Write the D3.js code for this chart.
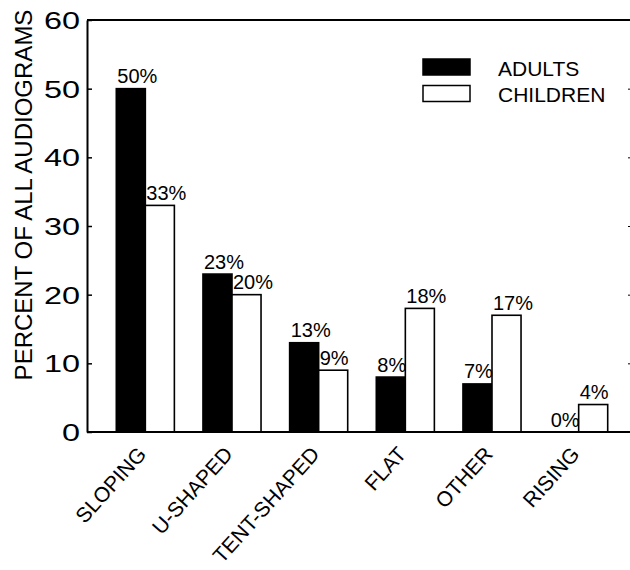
<!DOCTYPE html>
<html>
<head>
<meta charset="utf-8">
<script src="https://cdn.jsdelivr.net/npm/d3@7"></script>
<style>
  html, body { margin: 0; padding: 0; background: #fff; }
  svg { display: block; }
  text { font-family: "Liberation Sans", Arial, Helvetica, sans-serif; fill: #000; }
</style>
</head>
<body>
<svg id="chart" width="630" height="570"></svg>
<script>
const categories = ["SLOPING", "U-SHAPED", "TENT-SHAPED", "FLAT", "OTHER", "RISING"];
const seriesNames = ["ADULTS", "CHILDREN"];
const adults = [50, 23, 13, 8, 7, 0];
const children = [33, 20, 9, 18, 17, 4];
const yTicks = [0, 10, 20, 30, 40, 50, 60];
const yTitle = "PERCENT OF ALL AUDIOGRAMS";

const svg = d3.select("#chart");
const plotLeft = 87, plotRight = 632, plotTop = 20, plotBottom = 432;

const y = d3.scaleLinear().domain([0, 60]).range([plotBottom, plotTop]);
const x = d3.scaleBand().domain(categories).range([102, 622]).paddingInner(0.33).paddingOuter(0.165);
const xs = d3.scaleBand().domain(seriesNames).range([0, x.bandwidth()]);
const fills = { ADULTS: "#000", CHILDREN: "#fff" };

const rows = categories.map((c, i) => ({ cat: c, values: [
  { s: "ADULTS", v: adults[i] }, { s: "CHILDREN", v: children[i] } ] }));

// bars
const g = svg.append("g");
const grp = g.selectAll("g.grp").data(rows).join("g")
  .attr("transform", d => `translate(${x(d.cat)},0)`);
grp.selectAll("rect").data(d => d.values).join("rect")
  .attr("x", d => xs(d.s))
  .attr("width", xs.bandwidth())
  .attr("y", d => y(d.v))
  .attr("height", d => y(0) - y(d.v))
  .attr("fill", d => fills[d.s])
  .attr("stroke", "#000")
  .attr("stroke-width", d => d.v > 0 ? 1.6 : 0);
grp.selectAll("text").data(d => d.values).join("text")
  .attr("x", d => xs(d.s) + 1)
  .attr("y", d => y(d.v) - 5.5)
  .attr("text-anchor", "start")
  .attr("font-size", 20)
  .text(d => d.v + "%");

// left axis
const yAxis = svg.append("g").attr("transform", `translate(${plotLeft},0)`)
  .call(d3.axisLeft(y).tickValues(yTicks).tickSizeInner(-5).tickSizeOuter(0));
yAxis.select(".domain").attr("stroke-width", 2);
yAxis.selectAll(".tick line").attr("stroke-width", 1.5);
yAxis.selectAll(".tick text")
  .attr("font-size", 24)
  .attr("font-family", "'Liberation Sans', Arial, sans-serif")
  .attr("x", -7 / 1.35)
  .attr("dy", "0.36em")
  .attr("transform", "scale(1.35,1)");

// right axis (frame, inward ticks)
const yAxisR = svg.append("g").attr("transform", `translate(${plotRight},0)`)
  .call(d3.axisRight(y).tickValues(yTicks).tickSizeInner(-4).tickSizeOuter(0).tickFormat(""));
yAxisR.select(".domain").attr("stroke-width", 2);

// top frame line
svg.append("line").attr("x1", plotLeft).attr("x2", plotRight).attr("y1", y(60)).attr("y2", y(60))
  .attr("stroke", "#000").attr("stroke-width", 2);

// bottom axis
const xAxis = svg.append("g").attr("transform", `translate(0,${plotBottom})`)
  .call(d3.axisBottom(x).tickSize(0));
xAxis.select(".domain").remove();
xAxis.selectAll(".tick text")
  .attr("font-size", 21)
  .attr("font-family", "'Liberation Sans', Arial, sans-serif")
  .attr("text-anchor", "end")
  .attr("x", 0).attr("y", 0).attr("dy", 0)
  .attr("transform", "translate(2,23) rotate(-48)");
svg.append("line").attr("x1", plotLeft).attr("x2", plotRight).attr("y1", y(0)).attr("y2", y(0))
  .attr("stroke", "#000").attr("stroke-width", 2);

// y title
svg.append("text")
  .attr("transform", `translate(32,195) rotate(-90)`)
  .attr("text-anchor", "middle")
  .attr("font-size", 24)
  .text(yTitle);

// legend
const legend = svg.append("g").selectAll("g").data(seriesNames).join("g")
  .attr("transform", (d, i) => `translate(423,${59 + i * 26.5})`);
legend.append("rect").attr("width", 47).attr("height", 16)
  .attr("fill", d => fills[d]).attr("stroke", "#000").attr("stroke-width", 1.5);
legend.append("text").attr("x", 75).attr("y", 16.5).attr("font-size", 21).text(d => d);
</script>
</body>
</html>
